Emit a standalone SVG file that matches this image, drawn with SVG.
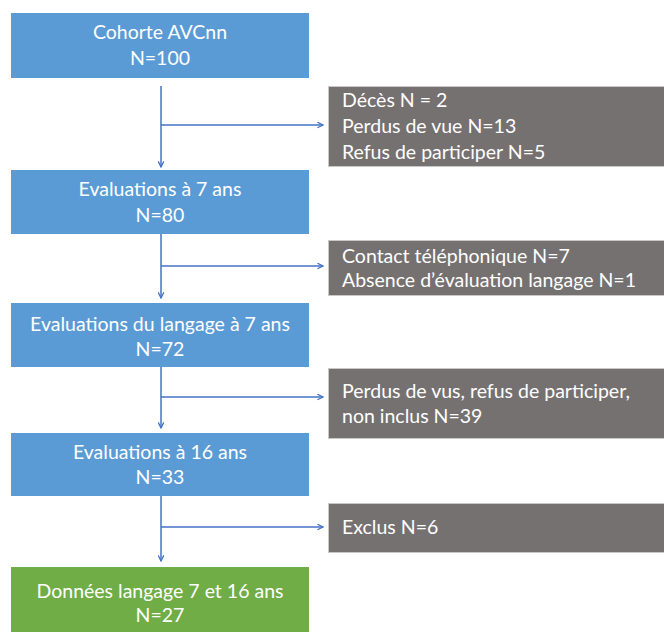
<svg xmlns="http://www.w3.org/2000/svg" width="664" height="632" viewBox="0 0 664 632">
<style>
.blue{fill:#5B9BD5}
.green{fill:#70AD47}
.grey{fill:#767171;stroke:#C9C7C7;stroke-width:1}
text{font-family:Lato,"Open Sans",sans-serif;font-size:19.5px;fill:#FFFFFF}
.c{text-anchor:middle}
.conn{stroke:#4472C4;stroke-width:1.5;fill:none}
</style>
<defs>
<marker id="arr" viewBox="0 0 10 10" refX="9" refY="5" markerWidth="7" markerHeight="7" markerUnits="userSpaceOnUse" orient="auto">
<path d="M1,1 L9,5 L1,9" fill="none" stroke="#4472C4" stroke-width="1.8"/>
</marker>
</defs>
<rect x="0" y="0" width="664" height="632" fill="#FFFFFF"/>
<g id="connectors">
<line class="conn" x1="161" y1="86" x2="161" y2="167" marker-end="url(#arr)"/>
<line class="conn" x1="161" y1="125" x2="323" y2="125" marker-end="url(#arr)"/>
<line class="conn" x1="161" y1="234" x2="161" y2="298" marker-end="url(#arr)"/>
<line class="conn" x1="161" y1="266" x2="323" y2="266" marker-end="url(#arr)"/>
<line class="conn" x1="161" y1="367" x2="161" y2="428" marker-end="url(#arr)"/>
<line class="conn" x1="161" y1="397" x2="323" y2="397" marker-end="url(#arr)"/>
<line class="conn" x1="161" y1="496" x2="161" y2="561" marker-end="url(#arr)"/>
<line class="conn" x1="161" y1="527" x2="323" y2="527" marker-end="url(#arr)"/>
</g>
<g id="cohorte">
<rect class="blue" x="11" y="13" width="298" height="65"/>
<text class="c" x="160" y="39">Cohorte AVCnn</text>
<text class="c" x="160" y="65">N=100</text>
</g>
<g id="exclusion1">
<rect class="grey" x="328.5" y="86.5" width="340" height="80"/>
<text x="342" y="107">Décès N = 2</text>
<text x="342" y="133">Perdus de vue N=13</text>
<text x="342" y="159">Refus de participer N=5</text>
</g>
<g id="eval7">
<rect class="blue" x="11" y="170" width="298" height="64"/>
<text class="c" x="160" y="196">Evaluations à 7 ans</text>
<text class="c" x="160" y="222">N=80</text>
</g>
<g id="exclusion2">
<rect class="grey" x="328.5" y="240.5" width="340" height="55"/>
<text x="342" y="263">Contact téléphonique N=7</text>
<text x="342" y="287">Absence d’évaluation langage N=1</text>
</g>
<g id="evallang7">
<rect class="blue" x="11" y="303" width="298" height="64"/>
<text class="c" x="160" y="331">Evaluations du langage à 7 ans</text>
<text class="c" x="160" y="356">N=72</text>
</g>
<g id="exclusion3">
<rect class="grey" x="328.5" y="368.5" width="340" height="70"/>
<text x="342" y="398">Perdus de vus, refus de participer,</text>
<text x="342" y="423">non inclus N=39</text>
</g>
<g id="eval16">
<rect class="blue" x="11" y="433" width="298" height="63"/>
<text class="c" x="160" y="459">Evaluations à 16 ans</text>
<text class="c" x="160" y="484">N=33</text>
</g>
<g id="exclusion4">
<rect class="grey" x="328.5" y="503.5" width="340" height="49"/>
<text x="342" y="534">Exclus N=6</text>
</g>
<g id="donnees">
<rect class="green" x="11" y="567" width="298" height="66"/>
<text class="c" x="160" y="598">Données langage 7 et 16 ans</text>
<text class="c" x="160" y="622">N=27</text>
</g>
</svg>
